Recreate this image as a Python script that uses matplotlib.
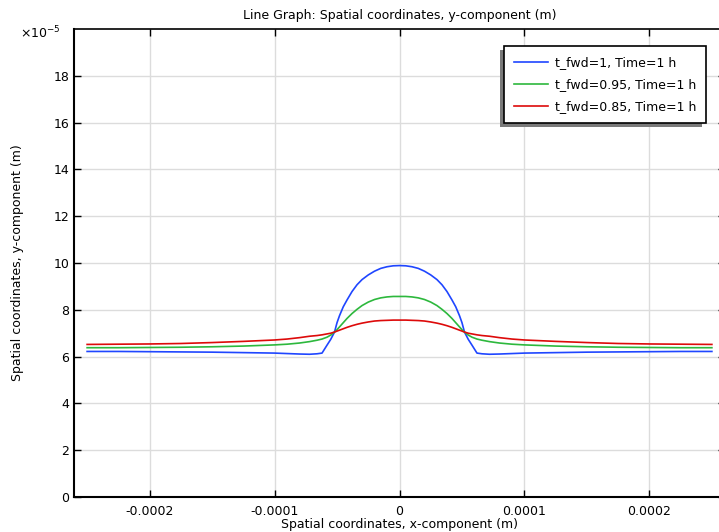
import numpy as np
import matplotlib
matplotlib.use("Agg")
import matplotlib.pyplot as plt
from matplotlib.ticker import FuncFormatter
from matplotlib.patches import Rectangle

# x positions in units of 1e-4 m
x_e4 = [-2.5, -2.25, -2.0, -1.75, -1.5, -1.25, -1.0, -0.9, -0.8, -0.72, -0.66, -0.62, -0.58, -0.55,
        -0.52, -0.50, -0.48, -0.45, -0.42, -0.38, -0.34, -0.30, -0.25, -0.20, -0.15, -0.10, -0.05, 0.0,
        0.05, 0.10, 0.15, 0.20, 0.25, 0.30, 0.34, 0.38, 0.42, 0.45, 0.48, 0.50, 0.52,
        0.55, 0.58, 0.62, 0.66, 0.72, 0.8, 0.9, 1.0, 1.25, 1.5, 1.75, 2.0, 2.25, 2.5]

# y values in units of 1e-5 m
y_fwd1 = [6.22, 6.22, 6.21, 6.20, 6.19, 6.17, 6.15, 6.13, 6.11, 6.10, 6.12, 6.15, 6.49, 6.74,
          7.05, 7.45, 7.75, 8.13, 8.42, 8.78, 9.07, 9.29, 9.49, 9.65, 9.77, 9.84, 9.88, 9.89,
          9.88, 9.84, 9.77, 9.65, 9.49, 9.29, 9.07, 8.78, 8.42, 8.13, 7.75, 7.45, 7.05,
          6.74, 6.49, 6.15, 6.12, 6.10, 6.11, 6.13, 6.15, 6.17, 6.19, 6.20, 6.21, 6.22, 6.22]
y_fwd095 = [6.38, 6.38, 6.39, 6.40, 6.42, 6.45, 6.50, 6.53, 6.58, 6.64, 6.70, 6.75, 6.83, 6.92,
            7.05, 7.15, 7.27, 7.45, 7.63, 7.84, 8.02, 8.18, 8.33, 8.44, 8.51, 8.55, 8.57, 8.57,
            8.57, 8.55, 8.51, 8.44, 8.33, 8.18, 8.02, 7.84, 7.63, 7.45, 7.27, 7.15, 7.05,
            6.92, 6.83, 6.75, 6.70, 6.64, 6.58, 6.53, 6.50, 6.45, 6.42, 6.40, 6.39, 6.38, 6.38]
y_fwd085 = [6.52, 6.53, 6.54, 6.56, 6.60, 6.65, 6.71, 6.75, 6.81, 6.87, 6.90, 6.93, 6.97, 7.00,
            7.05, 7.09, 7.13, 7.19, 7.25, 7.32, 7.38, 7.43, 7.48, 7.52, 7.54, 7.55, 7.56, 7.56,
            7.56, 7.55, 7.54, 7.52, 7.48, 7.43, 7.38, 7.32, 7.25, 7.19, 7.13, 7.09, 7.05,
            7.00, 6.97, 6.93, 6.90, 6.87, 6.81, 6.75, 6.71, 6.65, 6.60, 6.56, 6.54, 6.53, 6.52]

labels = ["t_fwd=1, Time=1 h", "t_fwd=0.95, Time=1 h", "t_fwd=0.85, Time=1 h"]
colors = ["#1f46ff", "#2db83d", "#dd0a0a"]

x_tick_vals = [-0.0002, -0.0001, 0, 0.0001, 0.0002]
y_tick_vals = [0, 2, 4, 6, 8, 10, 12, 14, 16, 18]

W, H = 719, 532
fig = plt.figure(figsize=(W / 100, H / 100), dpi=100)
left, right, top, bottom = 74, 725, 29, 497
ax = fig.add_axes([left / W, 1 - bottom / H, (right - left) / W, (bottom - top) / H])

x = np.array(x_e4) * 1e-4
lines = []
for ys, lab, c in zip([y_fwd1, y_fwd095, y_fwd085], labels, colors):
    ln, = ax.plot(x, np.array(ys) * 1e-5, color=c, lw=1.2, label=lab)
    lines.append(ln)

ax.set_xlim(-2.605e-4, 2.605e-4)
ax.set_ylim(0, 20e-5)
ax.set_xticks(x_tick_vals)
ax.set_yticks([v * 1e-5 for v in y_tick_vals])
ax.xaxis.set_major_formatter(FuncFormatter(lambda v, p: "0" if abs(v) < 1e-12 else "%g" % v))
ax.yaxis.set_major_formatter(FuncFormatter(lambda v, p: "%d" % round(v / 1e-5)))
ax.grid(True, color="#dcdcdc", lw=1.0)
ax.set_axisbelow(True)
ax.tick_params(direction="in", length=5, width=1.0, top=True, right=True, labelsize=9, colors="black")
ax.tick_params(axis="x", pad=6)
for s in ["left", "bottom", "top", "right"]:
    ax.spines[s].set_color("black")
ax.spines["left"].set_linewidth(1.5)
ax.spines["bottom"].set_linewidth(1.5)
ax.spines["top"].set_linewidth(1.2)

ax.set_title("Line Graph: Spatial coordinates, y-component (m)", fontsize=9, pad=7)
ax.set_xlabel("Spatial coordinates, x-component (m)", fontsize=9, labelpad=0)
ax.set_ylabel("Spatial coordinates, y-component (m)", fontsize=9, labelpad=21)
fig.text(20 / W, 1 - 33 / H, "×10$^{-5}$", fontsize=9, va="center", ha="left")

leg = fig.legend(handles=lines, loc="upper left", bbox_to_anchor=(504 / W, 1 - 46 / H),
                 fontsize=9, frameon=True, fancybox=False, framealpha=1, edgecolor="black",
                 handlelength=2.7, labelspacing=0.72, borderpad=0.8, handletextpad=0.55, borderaxespad=0)
leg.get_frame().set_linewidth(1.2)
leg.set_zorder(5)

fig.canvas.draw()
bb = leg.get_frame().get_window_extent()
shadow = Rectangle(((bb.x0 - 4) / W, (bb.y0 - 4) / H), bb.width / W, bb.height / H,
                   transform=fig.transFigure, facecolor="#7a7a7a", edgecolor="none", zorder=4.9)
fig.patches.append(shadow)

fig.savefig("out.png", dpi=100)
